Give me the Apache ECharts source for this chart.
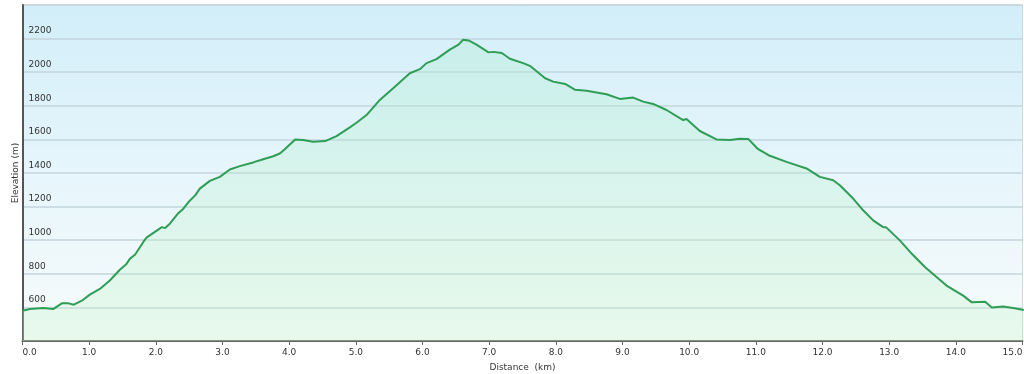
<!DOCTYPE html>
<html>
<head>
<meta charset="utf-8">
<script src="https://cdn.jsdelivr.net/npm/echarts@6/dist/echarts.min.js"></script>
<style>html,body{margin:0;padding:0;background:#fff}#c{width:1024px;height:374px}</style>
</head>
<body>
<div id="c"></div>
<script>
const distanceKm = [0,0.11,0.31,0.46,0.59,0.69,0.77,0.89,1.01,1.16,1.31,1.46,1.56,1.61,1.69,1.81,1.86,2.09,2.14,2.21,2.34,2.41,2.49,2.59,2.66,2.81,2.96,3.11,3.26,3.46,3.61,3.76,3.86,3.93,4.09,4.21,4.36,4.54,4.71,4.91,5.01,5.16,5.36,5.56,5.81,5.96,6.06,6.21,6.41,6.54,6.61,6.69,6.81,6.99,7.06,7.19,7.31,7.51,7.61,7.84,7.96,8.14,8.29,8.46,8.76,8.96,9.16,9.31,9.46,9.66,9.91,9.96,10.16,10.41,10.61,10.76,10.89,11.03,11.19,11.46,11.76,11.96,12.16,12.26,12.46,12.61,12.76,12.91,12.96,13.16,13.34,13.54,13.86,14.11,14.24,14.44,14.54,14.71,14.86,15.02];
const elevationM = [580,590,597,590,624,624,616,640,676,710,760,824,859,889,915,988,1015,1078,1072,1098,1162,1186,1227,1267,1307,1353,1377,1421,1441,1463,1482,1500,1516,1540,1600,1596,1586,1590,1620,1672,1699,1745,1835,1905,1994,2018,2054,2078,2134,2164,2193,2189,2164,2118,2121,2114,2080,2054,2038,1964,1944,1930,1895,1889,1869,1841,1849,1825,1811,1775,1715,1721,1650,1600,1596,1604,1602,1543,1506,1466,1427,1377,1357,1327,1248,1178,1118,1078,1075,999,919,839,730,670,630,634,600,606,597,585];
const yTicks = [600,800,1000,1200,1400,1600,1800,2000,2200];

const chart = echarts.init(document.getElementById('c'));
const pts = distanceKm.map((d,i)=>[d,elevationM[i]]);
chart.setOption({
  animation:false,
  grid:{left:22.5,right:1.5,top:5,bottom:33,outerBoundsMode:'none',containLabel:false,show:true,borderColor:'#d0d8dc',borderWidth:1,
    backgroundColor:new echarts.graphic.LinearGradient(0,0,0,1,[{offset:0,color:'#d2eef9'},{offset:0.6,color:'#eaf7fc'},{offset:1,color:'#f6fbf9'}])},
  xAxis:{type:'value',min:0,max:15,interval:1,
    name:'Distance  (km)',nameLocation:'middle',nameGap:22,
    nameTextStyle:{fontFamily:'DejaVu Sans',fontSize:9,color:'#333'},
    axisLine:{lineStyle:{color:'#666',width:2}},
    axisTick:{show:true,length:4,lineStyle:{color:'#666'}},
    axisLabel:{fontFamily:'DejaVu Sans',fontSize:9,color:'#333',margin:7,
      formatter:v=>v.toFixed(1),alignMinLabel:'left',alignMaxLabel:'right'},
    splitLine:{show:false}},
  yAxis:{type:'value',min:400,max:2400,interval:200,
    name:'Elevation (m)',nameLocation:'middle',nameGap:2,nameMoveOverlap:false,
    nameTextStyle:{fontFamily:'DejaVu Sans',fontSize:9,color:'#333'},
    axisLine:{show:true,lineStyle:{color:'#555',width:2}},
    axisTick:{show:false},
    axisLabel:{inside:true,fontFamily:'DejaVu Sans',fontSize:9,color:'#333',margin:6,
      verticalAlign:'bottom',padding:[0,0,3,0],
      formatter:v=>yTicks.includes(v)?String(v):''},
    splitLine:{lineStyle:{color:'#c3d5dc',width:1.5}}},
  series:[{type:'line',data:pts,showSymbol:false,
    lineStyle:{color:'#2f9d56',width:2},
    areaStyle:{color:new echarts.graphic.LinearGradient(0,0,0,1,[{offset:0,color:'rgba(160,235,190,0.35)'},{offset:1,color:'rgba(200,245,205,0.45)'}])}}]
});
</script>
</body>
</html>
